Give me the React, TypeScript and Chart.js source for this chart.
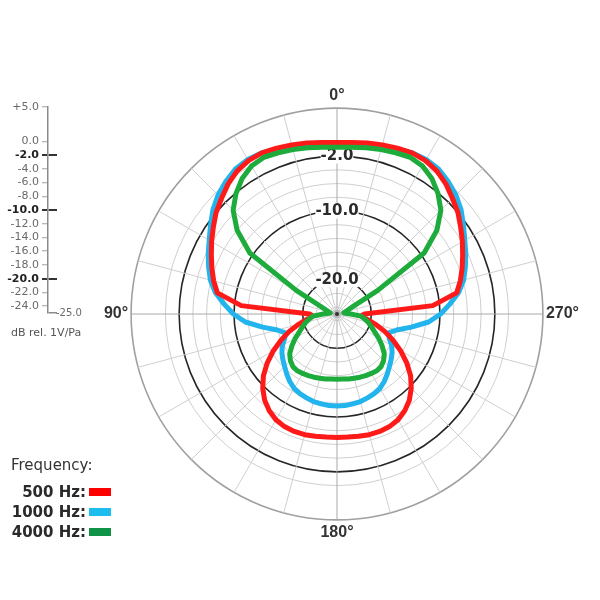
import React, { useEffect, useRef } from "react";
import { Chart, registerables } from "chart.js";

Chart.register(...registerables);

// ---------- data ----------
// Angles, counter-clockwise from 0° (top), 90° = left, 180° = bottom, 270° = right
const STEP_DEG = 5;
const ANGLES_DEG = Array.from({ length: 360 / STEP_DEG }, (_, k) => k * STEP_DEG);
const AXIS_ANGLES = [0, 90, 180, 270];

const SERIES_NAMES = ["500 Hz", "1000 Hz", "4000 Hz"];
const LINE_COLORS = ["#ff1a1a", "#22b4ec", "#1dac3c"];
const SWATCH_COLORS = ["#ff0000", "#1ebdf0", "#0f9447"];

// dB values at 0°, 5°, ... 355°
const HZ_500 = [
  0.0, 0.1, 0.3, 0.5, 0.7, 0.9, 0.8, 0.4, -0.3, -1.2, -2.0, -3.0, -3.9, -4.8, -5.6, -6.4, -7.3, -11.0,
  -21.0, -21.5, -20.5, -19.2, -17.6, -16.0, -14.3, -12.6, -11.0, -9.7, -8.6, -7.8, -7.2, -6.9, -6.8, -6.8, -6.9, -7.0,
  -7.0, -7.0, -6.9, -6.8, -6.8, -6.9, -7.2, -7.8, -8.6, -9.7, -11.0, -12.6, -14.3, -16.0, -17.6, -19.2, -20.5, -21.5,
  -21.0, -11.0, -7.3, -6.4, -5.6, -4.8, -3.9, -3.0, -2.0, -1.2, -0.3, 0.4, 0.8, 0.9, 0.7, 0.5, 0.3, 0.1,
];
const HZ_1000 = [
  -0.3, -0.2, 0.0, 0.3, 0.6, 0.9, 1.0, 0.8, 0.2, -0.5, -1.4, -2.5, -3.5, -4.3, -5.1, -5.9, -7.0, -8.5,
  -9.9, -11.6, -14.0, -16.0, -17.0, -16.6, -15.8, -15.2, -14.7, -14.2, -13.6, -13.0, -12.5, -12.2, -12.0, -11.8, -11.7, -11.6,
  -11.6, -11.6, -11.7, -11.8, -12.0, -12.2, -12.5, -13.0, -13.6, -14.2, -14.7, -15.2, -15.8, -16.6, -17.0, -16.0, -14.0, -11.6,
  -9.9, -8.5, -7.0, -5.9, -5.1, -4.3, -3.5, -2.5, -1.4, -0.5, 0.2, 0.8, 1.0, 0.9, 0.6, 0.3, 0.0, -0.2,
];
const HZ_4000 = [
  -0.7, -0.6, -0.4, -0.2, 0.0, 0.2, -0.1, -0.9, -2.1, -3.6, -6.0, -9.5, -18.2, -22.4, -23.3, -23.7, -24.0, -23.8,
  -23.0, -21.5, -20.9, -20.3, -19.7, -19.0, -18.0, -17.0, -16.0, -15.4, -15.0, -14.9, -15.0, -15.1, -15.2, -15.3, -15.4, -15.5,
  -15.5, -15.5, -15.4, -15.3, -15.2, -15.1, -15.0, -14.9, -15.0, -15.4, -16.0, -17.0, -18.0, -19.0, -19.7, -20.3, -20.9, -21.5,
  -23.0, -23.8, -24.0, -23.7, -23.3, -22.4, -18.2, -9.5, -6.0, -3.6, -2.1, -0.9, -0.1, 0.2, 0.0, -0.2, -0.4, -0.6,
];

const DB_MIN = -25;
const DB_MAX = 5;
const RING_DB = [-24, -22, -20, -18, -16, -14, -12, -10, -8, -6, -4, -2, 0, 5];
const MAJOR_DB = [-20, -10, -2];
const SCALE_TICKS = [5, 0, -2, -4, -6, -8, -10, -12, -14, -16, -18, -20, -22, -24];
const SCALE_MAJOR = [-2, -10, -20];

const UI_FONT = "'DejaVu Sans', sans-serif";
const LABEL_FONT = "'Liberation Sans', Arial, sans-serif";

function PolarChart() {
  const ref = useRef<HTMLCanvasElement>(null);
  useEffect(() => {
    const n = ANGLES_DEG.length;
    // radar goes clockwise; the reference goes counter-clockwise
    const order = ANGLES_DEG.map((_, i) => (n - i) % n);
    const pick = (arr: number[]) => order.map((k) => arr[k]);
    const series = [HZ_500, HZ_1000, HZ_4000];
    const mk = (s: number) => ({
      label: SERIES_NAMES[s],
      data: pick(series[s]),
      borderColor: LINE_COLORS[s],
      backgroundColor: "rgba(0,0,0,0)",
      borderWidth: 5,
      fill: false,
      pointRadius: 0,
      pointHoverRadius: 0,
      tension: 0,
      borderJoinStyle: "round" as const,
    });
    const tv = (c: any) => (c && c.tick ? c.tick.value : undefined);
    const chart = new Chart(ref.current!, {
      type: "radar",
      data: {
        labels: order.map((k) => ANGLES_DEG[k]),
        datasets: [
          mk(2),
          mk(0),
          mk(1),
          {
            label: "pole",
            data: order.map(() => DB_MIN),
            showLine: false,
            borderColor: "rgba(0,0,0,0)",
            pointRadius: (c: any) => (c.dataIndex === 0 ? 3 : 0),
            pointBackgroundColor: "#333",
            pointBorderColor: "#b5b5b5",
            pointBorderWidth: 2,
          } as any,
        ],
      },
      options: {
        responsive: false,
        animation: false,
        events: [],
        layout: { padding: 0 },
        plugins: { legend: { display: false }, tooltip: { enabled: false } },
        scales: {
          r: {
            min: DB_MIN,
            max: DB_MAX,
            startAngle: 0,
            afterBuildTicks: (s: any) => {
              s.ticks = [DB_MIN, ...RING_DB].sort((a, b) => a - b).map((v) => ({ value: v }));
            },
            grid: {
              circular: true,
              color: (c: any) => {
                const v = tv(c);
                if (MAJOR_DB.includes(v)) return "#262626";
                if (v === DB_MAX) return "#a0a0a0";
                return "#cfcfcf";
              },
              lineWidth: (c: any) => {
                const v = tv(c);
                if (MAJOR_DB.includes(v)) return 1.6;
                if (v === DB_MAX) return 1.6;
                return 1;
              },
            },
            angleLines: {
              color: (c: any) => (c.index % 18 === 0 ? "#a8a8a8" : "#cfcfcf"),
              lineWidth: (c: any) => (c.index % 3 === 0 ? 1 : 0),
            },
            ticks: {
              display: true,
              callback: (v: any) => (MAJOR_DB.includes(v) ? Number(v).toFixed(1) : ""),
              font: { family: UI_FONT, size: 15, weight: "bold" },
              color: "#2b2b2b",
              showLabelBackdrop: (c: any) => MAJOR_DB.includes(tv(c)),
              backdropColor: "#ffffff",
              backdropPadding: (c: any) => (tv(c) === -2 ? { x: 20, y: 2 } : { x: 10, y: 2 }),
            },
            pointLabels: {
              display: true,
              padding: -4.5,
              callback: (label: any) => (AXIS_ANGLES.includes(Number(label)) ? `${label}°` : ""),
              font: { family: LABEL_FONT, size: 16, weight: "bold" },
              color: "#333",
            },
          },
        },
      } as any,
    });
    return () => chart.destroy();
  }, []);
  return (
    <canvas
      ref={ref}
      width={484}
      height={484}
      style={{ position: "absolute", left: 100, top: 72, width: 484, height: 484 }}
    />
  );
}

function DbScale() {
  const ref = useRef<HTMLCanvasElement>(null);
  useEffect(() => {
    const tv = (c: any) => (c && c.tick ? c.tick.value : undefined);
    const chart = new Chart(ref.current!, {
      type: "scatter",
      data: { datasets: [] },
      options: {
        responsive: false,
        animation: false,
        events: [],
        layout: { padding: { left: 0, right: 0, top: 17, bottom: 17 } },
        plugins: { legend: { display: false }, tooltip: { enabled: false } },
        scales: {
          x: { display: false, min: 0, max: 1 },
          y: {
            min: DB_MIN,
            max: DB_MAX,
            afterBuildTicks: (s: any) => {
              s.ticks = [DB_MIN, ...SCALE_TICKS].sort((a, b) => a - b).map((v) => ({ value: v }));
            },
            afterFit: (s: any) => {
              s.width = 48;
            },
            border: { display: true, color: "#8a8a8a", width: 1.5 },
            grid: {
              drawOnChartArea: true,
              drawTicks: true,
              tickLength: 6,
              color: (c: any) => {
                const v = tv(c);
                if (SCALE_MAJOR.includes(v)) return "#333";
                if (v === DB_MIN) return "#8a8a8a";
                return "rgba(0,0,0,0)";
              },
              tickColor: (c: any) => {
                const v = tv(c);
                if (SCALE_MAJOR.includes(v)) return "#333";
                if (v === DB_MIN) return "rgba(0,0,0,0)";
                return "#a0a0a0";
              },
              lineWidth: (c: any) => (SCALE_MAJOR.includes(tv(c)) ? 2 : 1.5),
              tickWidth: (c: any) => (SCALE_MAJOR.includes(tv(c)) ? 2 : 1),
            },
            ticks: {
              autoSkip: false,
              padding: 3,
              callback: (v: any) => (v === DB_MIN ? "" : (v > 0 ? "+" : "") + Number(v).toFixed(1)),
              font: (c: any) =>
                SCALE_MAJOR.includes(tv(c))
                  ? { family: UI_FONT, size: 11, weight: "bold" }
                  : { family: UI_FONT, size: 11 },
              color: (c: any) => (SCALE_MAJOR.includes(tv(c)) ? "#222" : "#6a6a6a"),
            },
          },
        },
      } as any,
    });
    return () => chart.destroy();
  }, []);
  return (
    <canvas
      ref={ref}
      width={57}
      height={240}
      style={{ position: "absolute", left: 0, top: 90, width: 57, height: 240 }}
    />
  );
}

function Legend() {
  const rowCenters = [492, 511.5, 531.5];
  return (
    <>
      <div
        style={{
          position: "absolute",
          left: 11,
          top: 456,
          font: `15px ${UI_FONT}`,
          lineHeight: "18px",
          color: "#333",
          whiteSpace: "nowrap",
        }}
      >
        Frequency:
      </div>
      {SERIES_NAMES.map((name, i) => (
        <React.Fragment key={name}>
          <div
            style={{
              position: "absolute",
              left: 0,
              width: 86,
              top: rowCenters[i] - 9,
              textAlign: "right",
              font: `bold 15px ${UI_FONT}`,
              lineHeight: "18px",
              color: "#2a2a2a",
              whiteSpace: "nowrap",
            }}
          >
            {name}:
          </div>
          <div
            style={{
              position: "absolute",
              left: 89,
              top: rowCenters[i] - 4,
              width: 22,
              height: 8,
              background: SWATCH_COLORS[i],
            }}
          />
        </React.Fragment>
      ))}
    </>
  );
}

export default function App() {
  return (
    <div
      style={{
        position: "absolute",
        left: 0,
        top: 0,
        width: 600,
        height: 600,
        background: "#ffffff",
        overflow: "hidden",
        fontFamily: UI_FONT,
      }}
    >
      <DbScale />
      <div
        style={{
          position: "absolute",
          left: 56,
          top: 307,
          font: `10px ${UI_FONT}`,
          lineHeight: "12px",
          color: "#6a6a6a",
        }}
      >
        -25.0
      </div>
      <div
        style={{
          position: "absolute",
          left: 11,
          top: 326,
          font: `11px ${UI_FONT}`,
          lineHeight: "13px",
          color: "#555",
          whiteSpace: "nowrap",
        }}
      >
        dB rel. 1V/Pa
      </div>
      <PolarChart />
      <Legend />
    </div>
  );
}
